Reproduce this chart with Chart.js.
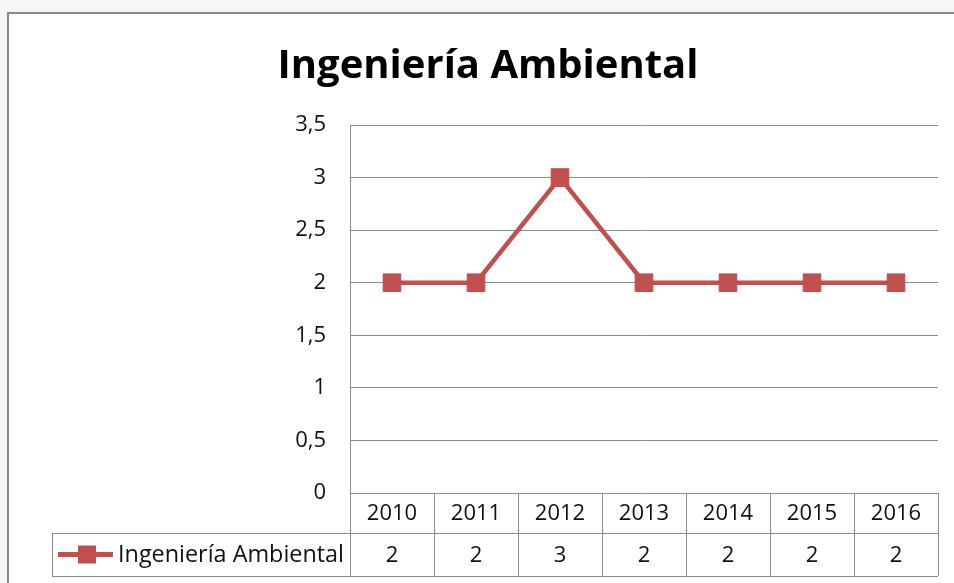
<!DOCTYPE html>
<html>
<head>
<meta charset="utf-8">
<script src="https://cdn.jsdelivr.net/npm/chart.js@4/dist/chart.umd.min.js"></script>
<style>
  html, body { margin: 0; padding: 0; background: #f6f6f6; }
  #wrap { width: 954px; height: 583px; }
</style>
</head>
<body>
<div id="wrap"><canvas id="myChart" width="954" height="583"></canvas></div>
<script>
// Data
const years = ['2010', '2011', '2012', '2013', '2014', '2015', '2016'];
const seriesName = 'Ingeniería Ambiental';
const values = [2, 2, 3, 2, 2, 2, 2];
const yTicks = [0, 0.5, 1, 1.5, 2, 2.5, 3, 3.5];

const red = '#C0504D';
const gridColor = '#8c8c8c';
const fontFam = "'Open Sans', 'Noto Sans', sans-serif";

const fmt = v => String(v).replace('.', ',');

// frame + white chart background
const framePlugin = {
    id: 'frame',
    beforeDraw(chart) {
        const c = chart.ctx;
        c.save();
        c.fillStyle = '#f6f6f6';
        c.fillRect(0, 0, chart.width, chart.height);
        c.fillStyle = '#ffffff';
        c.fillRect(8, 13, chart.width - 8, chart.height - 13);
        c.strokeStyle = '#8a8a8a';
        c.lineWidth = 2;
        c.beginPath();
        c.moveTo(8, chart.height);
        c.lineTo(8, 13);
        c.lineTo(chart.width, 13);
        c.stroke();
        c.restore();
    }
};

// data table under the plot
const tablePlugin = {
    id: 'dataTable',
    afterDraw(chart) {
        const c = chart.ctx;
        const x = chart.scales.x;
        const area = chart.chartArea;
        const n = years.length;
        const cellW = (area.right - area.left) / n;
        const top = area.bottom;
        const mid = top + 40;
        const bot = top + 83;
        const legLeft = 52;

        c.save();
        c.strokeStyle = gridColor;
        c.lineWidth = 1;
        c.beginPath();
        // horizontal lines
        c.moveTo(legLeft, mid + 0.5); c.lineTo(area.right, mid + 0.5);
        c.moveTo(legLeft, bot + 0.5); c.lineTo(area.right, bot + 0.5);
        // verticals
        for (let i = 0; i <= n; i++) {
            const px = Math.round(area.left + i * cellW) + 0.5;
            c.moveTo(px, top); c.lineTo(px, bot);
        }
        c.moveTo(legLeft + 0.5, mid); c.lineTo(legLeft + 0.5, bot);
        c.stroke();

        c.fillStyle = '#111';
        c.font = '22px ' + fontFam;
        c.textAlign = 'center';
        c.textBaseline = 'middle';
        years.forEach((y, i) => {
            const cx = x.getPixelForValue(i);
            c.fillText(y, cx, (top + mid) / 2 + 1);
            c.fillText(fmt(values[i]), cx, (mid + bot) / 2 + 1);
        });

        // legend key
        const ly = (mid + bot) / 2;
        c.strokeStyle = red;
        c.lineWidth = 5;
        c.beginPath();
        c.moveTo(58, ly); c.lineTo(113, ly);
        c.stroke();
        c.fillStyle = red;
        c.fillRect(87 - 9, ly - 9, 18, 18);
        c.fillStyle = '#111';
        c.textAlign = 'left';
        c.font = '23.4px ' + fontFam;
        c.fillText(seriesName, 118, ly + 1);
        c.restore();
    }
};

const ctx = document.getElementById('myChart').getContext('2d');

const chart = new Chart(ctx, {
    type: 'line',
    data: {
        labels: years,
        datasets: [{
            label: seriesName,
            data: values,
            borderColor: red,
            backgroundColor: red,
            borderWidth: 4.5,
            pointStyle: 'rect',
            pointRadius: 12.5,
            pointBorderWidth: 1,
            pointHoverRadius: 12.5,
            tension: 0
        }]
    },
    options: {
        responsive: false,
        animation: false,
        devicePixelRatio: 1,
        layout: { padding: { left: 38, right: 16, top: 0, bottom: 90 } },
        plugins: {
            legend: { display: false },
            tooltip: { enabled: false },
            title: {
                display: true,
                text: seriesName,
                color: '#000',
                font: { family: fontFam, size: 40, weight: 'bold' },
                padding: { top: 43, bottom: 34 }
            }
        },
        scales: {
            x: {
                type: 'category',
                display: false,
                offset: true
            },
            y: {
                min: 0,
                max: 3.5,
                afterFit(scale) { scale.width = 312; },
                afterBuildTicks(scale) { scale.ticks = yTicks.map(v => ({ value: v })); },
                grid: { color: gridColor, drawTicks: false, lineWidth: 1 },
                border: { color: gridColor, width: 1 },
                ticks: {
                    padding: 24,
                    color: '#111',
                    font: { family: fontFam, size: 22 },
                    callback: v => fmt(v)
                }
            }
        }
    },
    plugins: [framePlugin, tablePlugin]
});
</script>
</body>
</html>
